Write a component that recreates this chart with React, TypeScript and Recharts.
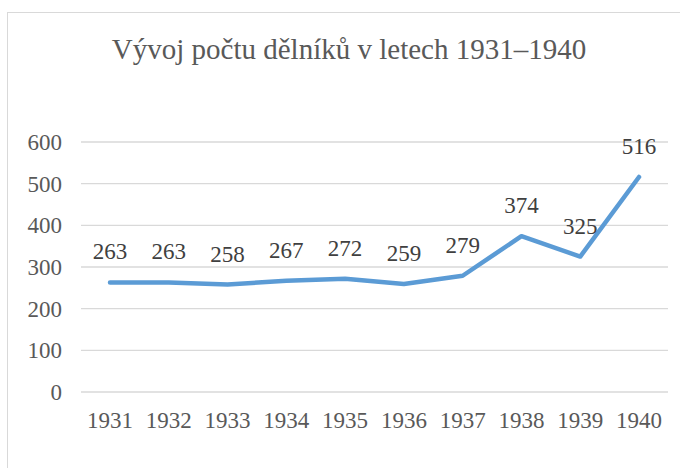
import { LineChart, Line, XAxis, YAxis, CartesianGrid, LabelList } from "recharts";

const years = ["1931", "1932", "1933", "1934", "1935", "1936", "1937", "1938", "1939", "1940"];
const workers = [263, 263, 258, 267, 272, 259, 279, 374, 325, 516];
const yTicks = [0, 100, 200, 300, 400, 500, 600];

const data = years.map((year, i) => ({ year, value: workers[i] }));

const font = "Liberation Serif";
const textColor = "#595959";

export default function App() {
  return (
    <div style={{ position: "absolute", left: 0, top: 0, width: 680, height: 468, background: "#fff" }}>
      {/* chart frame, cut off on the right and bottom */}
      <div
        style={{
          position: "absolute",
          left: 7,
          top: 12,
          width: 700,
          height: 480,
          border: "1px solid #d9d9d9",
        }}
      />
      <div
        style={{
          position: "absolute",
          left: 0,
          top: 33,
          width: 680,
          paddingLeft: 18,
          textAlign: "center",
          fontFamily: font,
          fontSize: 29,
          color: textColor,
          lineHeight: "32px",
          boxSizing: "border-box",
        }}
      >
        Vývoj počtu dělníků v letech 1931–1940
      </div>
      <div style={{ position: "absolute", left: 0, top: 0 }}>
        <LineChart
          width={680}
          height={468}
          data={data}
          margin={{ top: 142, right: 12, bottom: 36, left: 11 }}
        >
          <CartesianGrid vertical={false} stroke="#d9d9d9" strokeWidth={1.3} />
          <XAxis
            dataKey="year"
            axisLine={false}
            tickLine={false}
            tickSize={0}
            tickMargin={20}
            height={40}
            interval={0}
            padding={{ left: 29, right: 29 }}
            tick={{ fill: textColor, fontSize: 23, fontFamily: font }}
          />
          <YAxis
            domain={[0, 600]}
            ticks={yTicks}
            axisLine={false}
            tickLine={false}
            tickSize={0}
            tickMargin={19}
            width={70}
            tick={{ fill: textColor, fontSize: 23, fontFamily: font }}
          />
          <Line
            type="linear"
            dataKey="value"
            stroke="#5b9bd5"
            strokeWidth={4.5}
            dot={false}
            isAnimationActive={false}
            strokeLinecap="round"
            strokeLinejoin="round"
          >
            <LabelList
              dataKey="value"
              position="top"
              offset={23}
              fill="#404040"
              fontSize={23}
              fontFamily={font}
            />
          </Line>
        </LineChart>
      </div>
    </div>
  );
}
